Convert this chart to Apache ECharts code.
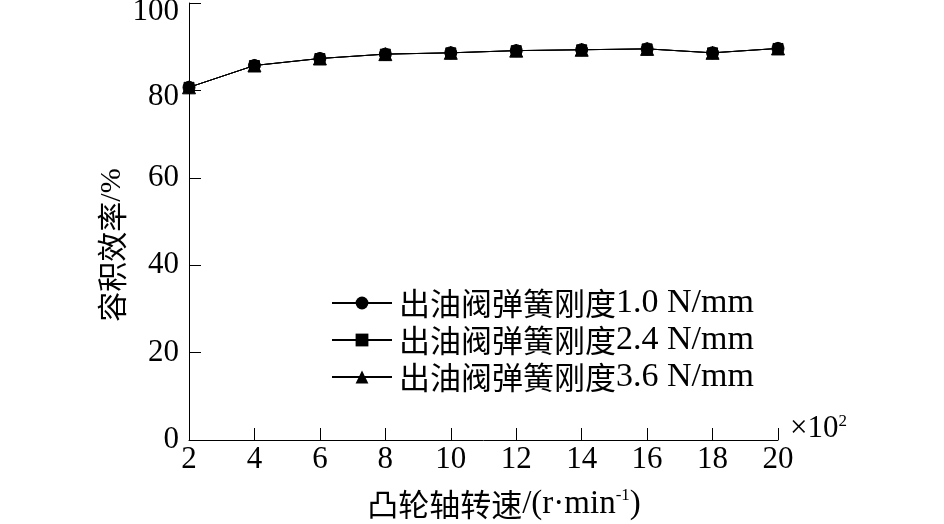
<!DOCTYPE html>
<html>
<head>
<meta charset="utf-8">
<script src="https://cdn.jsdelivr.net/npm/echarts@6/dist/echarts.min.js"></script>
<style>html,body{margin:0;padding:0;background:#fff;}#c{width:944px;height:524px;}</style>
</head>
<body>
<div id="c"></div>
<script>
// ---- data ----
const speeds = [2, 4, 6, 8, 10, 12, 14, 16, 18, 20];          // ×10^2 r/min
const eff10 = [80.7, 85.7, 87.3, 88.3, 88.6, 89.1, 89.3, 89.5, 88.6, 89.6];
const eff24 = [80.7, 85.7, 87.3, 88.3, 88.6, 89.1, 89.3, 89.5, 88.6, 89.6];
const eff36 = [80.7, 85.7, 87.3, 88.3, 88.6, 89.1, 89.3, 89.5, 88.6, 89.6];
const seriesPrefix = '出油阀弹簧刚度';
const seriesSuffix = ['1.0 N/mm', '2.4 N/mm', '3.6 N/mm'];
const seriesSymbols = ['circle', 'rect', 'triangle'];
const xTitleCJK = '凸轮轴转速';
const yTitle = '容积效率/%';

const LAT = '"Liberation Serif", "Times New Roman", serif';
const CJK = '"Noto Sans CJK SC", sans-serif';

const names = seriesSuffix.map(s => seriesPrefix + s);
const dataSets = [eff10, eff24, eff36];
const sizes = [12, 10, 13];

const chart = echarts.init(document.getElementById('c'), null, {renderer: 'canvas'});
chart.setOption({
  animation: false,
  backgroundColor: '#fff',
  grid: {left: 189, right: 166, top: 3, bottom: 84, containLabel: false, outerBoundsMode: 'none'},
  xAxis: {
    type: 'value', min: 2, max: 20, interval: 2,
    axisLine: {show: true, lineStyle: {color: '#000', width: 1}},
    axisTick: {show: true, inside: true, length: 12, lineStyle: {color: '#000'}},
    axisLabel: {color: '#000', fontFamily: LAT, fontSize: 31, margin: 4},
    splitLine: {show: false}
  },
  yAxis: {
    type: 'value', min: 0, max: 100, interval: 20,
    axisLine: {show: true, lineStyle: {color: '#000', width: 1}},
    axisTick: {show: true, inside: true, length: 12, lineStyle: {color: '#000'}},
    axisLabel: {
      color: '#000', fontFamily: LAT, fontSize: 31, margin: 10,
      formatter: v => v === 100 ? '{t|' + v + '}' : (v === 80 ? '{e|' + v + '}' : '' + v),
      rich: {
        t: {fontFamily: LAT, fontSize: 31, color: '#000', padding: [18, 0, 0, 0]},
        e: {fontFamily: LAT, fontSize: 31, color: '#000', padding: [12, 0, 0, 0]}
      }
    },
    splitLine: {show: false}
  },
  legend: {
    orient: 'vertical', left: 326, top: 281,
    itemWidth: 60, itemHeight: 16, itemGap: 3,
    data: names,
    formatter: n => '{c|' + seriesPrefix + '}{l|' + n.slice(seriesPrefix.length) + '}',
    textStyle: {
      color: '#000', padding: [0, 0, 0, 2], lineHeight: 30,
      rich: {
        c: {fontFamily: CJK, fontSize: 31, color: '#000', lineHeight: 30},
        l: {fontFamily: LAT, fontSize: 34, color: '#000', lineHeight: 30}
      }
    }
  },
  series: names.map((n, i) => ({
    name: n, type: 'line',
    data: speeds.map((x, k) => [x, dataSets[i][k]]),
    symbol: seriesSymbols[i], symbolSize: sizes[i],
    z: 5 - i,
    lineStyle: {color: '#000', width: 1},
    itemStyle: {color: '#000', borderColor: '#000'}
  })),
  graphic: [
    {
      type: 'text', left: 790, top: 413,
      style: {
        text: '{a|×10}{s|2}',
        rich: {
          a: {fontFamily: LAT, fontSize: 31, fill: '#000', lineHeight: 30},
          s: {fontFamily: LAT, fontSize: 17, fill: '#000', verticalAlign: 'top', lineHeight: 30}
        }
      }
    },
    {
      type: 'text', x: 504, y: 504,
      style: {
        text: '{c|' + xTitleCJK + '}{l|/(r·min}{s|-1}{l|)}',
        align: 'center', verticalAlign: 'middle',
        rich: {
          c: {fontFamily: CJK, fontSize: 31, fill: '#000', lineHeight: 34},
          l: {fontFamily: LAT, fontSize: 33, fill: '#000', lineHeight: 34},
          s: {fontFamily: LAT, fontSize: 17, fill: '#000', verticalAlign: 'top', lineHeight: 34}
        }
      }
    },
    {
      type: 'text', x: 112, y: 245, rotation: Math.PI / 2,
      style: {
        text: '{c|' + yTitle.slice(0, 4) + '}{l|' + yTitle.slice(4) + '}',
        align: 'center', verticalAlign: 'middle',
        rich: {
          c: {fontFamily: CJK, fontSize: 30, fill: '#000', lineHeight: 32},
          l: {fontFamily: LAT, fontSize: 30, fill: '#000', lineHeight: 32}
        }
      }
    }
  ]
});
</script>
</body>
</html>
